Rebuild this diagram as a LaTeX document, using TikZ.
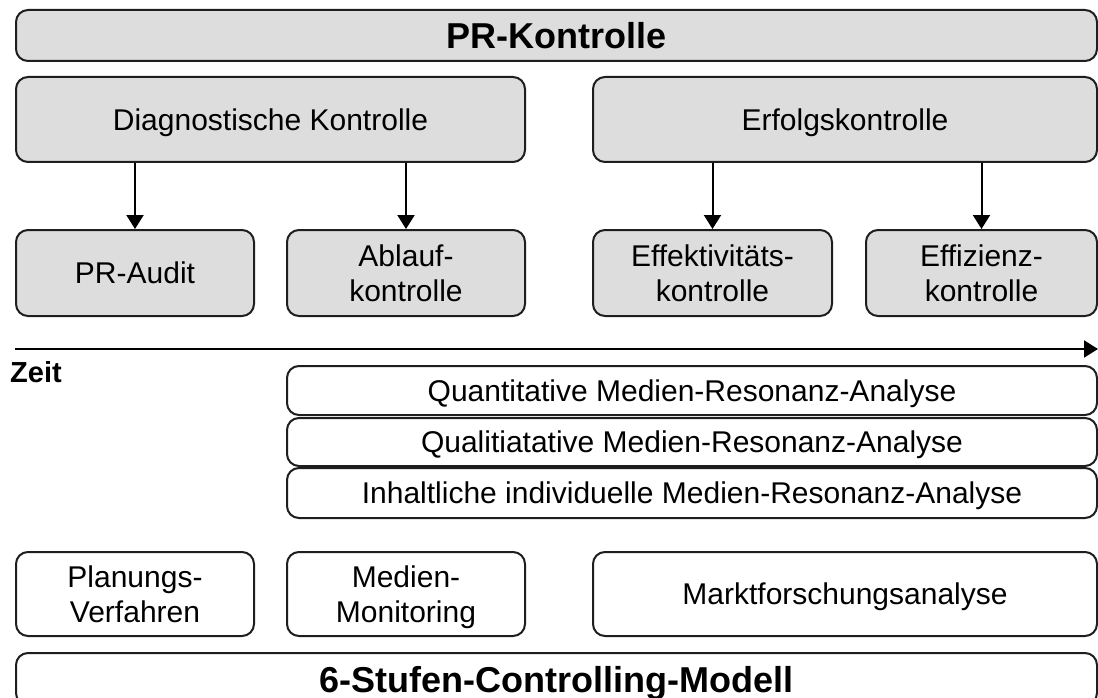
\documentclass[tikz,border=0pt]{standalone}
\usepackage{fontspec}
\setmainfont{Liberation Sans}
\usetikzlibrary{arrows.meta}
\definecolor{boxgray}{RGB}{221,221,221}
\definecolor{edge}{RGB}{30,30,30}
\begin{document}
\begin{tikzpicture}[x=1pt,y=-1pt,
  base/.style={draw=edge, line width=2pt, rounded corners=12pt, inner sep=0pt,
    align=center, text depth=0pt, font=\fontsize{30}{35}\selectfont},
  graybox/.style={base, fill=boxgray},
  whitebox/.style={base, fill=white},
  titlefont/.style={font=\fontsize{36}{40}\selectfont\bfseries},
  link/.style={draw=black, line width=2pt, -{Triangle[length=14pt,width=17pt]}}]
\useasboundingbox (0,0) rectangle (1098,698);

% Control hierarchy
\node[graybox, titlefont, minimum width=1081pt, minimum height=51pt] (top) at (556.5,35.5) {PR-Kontrolle};
\node[graybox, minimum width=509pt, minimum height=85pt] (diag) at (270.5,119.5) {Diagnostische Kontrolle};
\node[graybox, minimum width=504pt, minimum height=85pt] (erfolg) at (845,119.5) {Erfolgskontrolle};
\node[graybox, minimum width=238pt, minimum height=86pt] (audit) at (135,273) {PR-Audit};
\node[graybox, minimum width=238pt, minimum height=86pt] (ablauf) at (406,273) {Ablauf-\\kontrolle};
\node[graybox, minimum width=239pt, minimum height=86pt] (effekt) at (712.5,273) {Effektivitäts-\\kontrolle};
\node[graybox, minimum width=231pt, minimum height=86pt] (effiz) at (981.5,273) {Effizienz-\\kontrolle};

\draw[link] (audit.north |- diag.south) -- (audit.north);
\draw[link] (ablauf.north |- diag.south) -- (ablauf.north);
\draw[link] (effekt.north |- erfolg.south) -- (effekt.north);
\draw[link] (effiz.north |- erfolg.south) -- (effiz.north);

% Time axis
\coordinate (tstart) at (15,349);
\coordinate (tend) at (1098,349);
\draw[link] (tstart) -- (tend);
\node[anchor=base west, inner sep=0pt, font=\fontsize{29}{35}\selectfont\bfseries] (zeit) at (10,382) {Zeit};

% Media resonance analyses
\node[whitebox, minimum width=810pt, minimum height=49pt] (quant) at (692,390.5) {Quantitative Medien-Resonanz-Analyse};
\node[whitebox, minimum width=810pt, minimum height=48pt] (qual) at (692,442) {Qualitiatative Medien-Resonanz-Analyse};
\node[whitebox, minimum width=810pt, minimum height=50pt] (inhalt) at (692,493) {Inhaltliche individuelle Medien-Resonanz-Analyse};

% Instruments
\node[whitebox, minimum width=238pt, minimum height=84pt] (plan) at (135,594) {Planungs-\\Verfahren};
\node[whitebox, minimum width=238pt, minimum height=84pt] (monitor) at (406,594) {Medien-\\Monitoring};
\node[whitebox, minimum width=504pt, minimum height=84pt] (markt) at (845,594) {Marktforschungsanalyse};
\node[whitebox, titlefont, minimum width=1081pt, minimum height=52pt] (stufen) at (556.5,679) {6-Stufen-Controlling-Modell};
\end{tikzpicture}
\end{document}
